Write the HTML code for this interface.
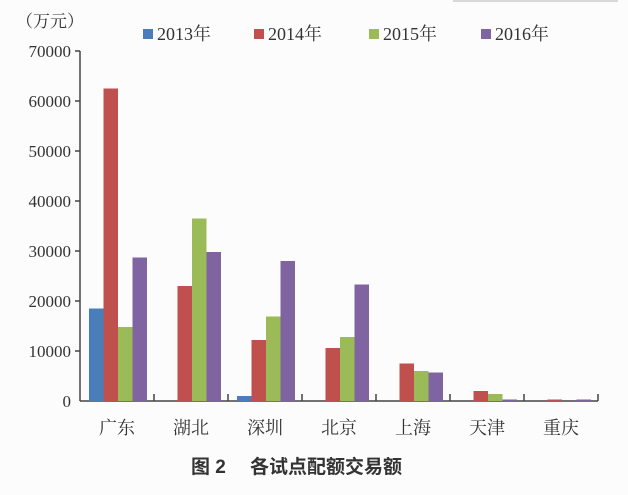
<!DOCTYPE html>
<html><head><meta charset="utf-8"><style>
body{margin:0;background:#fcfcfc;}
svg{display:block;}
text{font-family:"Liberation Serif","Noto Serif CJK SC",serif;fill:#333;}
</style></head><body>
<svg width="628" height="495" viewBox="0 0 628 495">
<rect width="628" height="495" fill="#fcfcfc"/>
<line x1="453" y1="1" x2="618" y2="1" stroke="#ccc" stroke-width="1.5"/>
<text x="16" y="27" font-size="17">（万元）</text>
<g font-size="18">
<rect x="143" y="29" width="10" height="10" fill="#4a7ebb"/><text x="157" y="40">2013年</text>
<rect x="254" y="29" width="10" height="10" fill="#c0504d"/><text x="268" y="40">2014年</text>
<rect x="369" y="29" width="10" height="10" fill="#9bbb59"/><text x="383" y="40">2015年</text>
<rect x="481" y="29" width="10" height="10" fill="#8064a2"/><text x="495" y="40">2016年</text>
</g>
<g font-size="17" text-anchor="end">
<text x="71" y="57">70000</text><text x="71" y="107">60000</text><text x="71" y="157">50000</text>
<text x="71" y="207">40000</text><text x="71" y="257">30000</text><text x="71" y="307">20000</text>
<text x="71" y="357">10000</text><text x="71" y="407">0</text>
</g>
<g stroke="#444" stroke-width="1.5">
<line x1="80" y1="51" x2="80" y2="401"/>
<line x1="80" y1="401" x2="598" y2="401"/>
<line x1="75" y1="51" x2="80" y2="51"/><line x1="75" y1="101" x2="80" y2="101"/>
<line x1="75" y1="151" x2="80" y2="151"/><line x1="75" y1="201" x2="80" y2="201"/>
<line x1="75" y1="251" x2="80" y2="251"/><line x1="75" y1="301" x2="80" y2="301"/>
<line x1="75" y1="351" x2="80" y2="351"/>
<line x1="154" y1="394" x2="154" y2="401"/><line x1="228" y1="394" x2="228" y2="401"/>
<line x1="302" y1="394" x2="302" y2="401"/><line x1="376" y1="394" x2="376" y2="401"/>
<line x1="450" y1="394" x2="450" y2="401"/><line x1="524" y1="394" x2="524" y2="401"/>
<line x1="598" y1="394" x2="598" y2="401"/>
</g>
<g>
<rect x="89" y="308.5" width="14.5" height="92.5" fill="#4a7ebb"/>
<rect x="103.5" y="88.5" width="14.5" height="312.5" fill="#c0504d"/>
<rect x="118" y="327" width="14.5" height="74" fill="#9bbb59"/>
<rect x="132.5" y="257.5" width="14.5" height="143.5" fill="#8064a2"/>
<rect x="177.5" y="286" width="14.5" height="115" fill="#c0504d"/>
<rect x="192" y="218.5" width="14.5" height="182.5" fill="#9bbb59"/>
<rect x="206.5" y="252" width="14.5" height="149" fill="#8064a2"/>
<rect x="237" y="396" width="14.5" height="5" fill="#4a7ebb"/>
<rect x="251.5" y="340" width="14.5" height="61" fill="#c0504d"/>
<rect x="266" y="316.5" width="14.5" height="84.5" fill="#9bbb59"/>
<rect x="280.5" y="261" width="14.5" height="140" fill="#8064a2"/>
<rect x="325.5" y="348" width="14.5" height="53" fill="#c0504d"/>
<rect x="340" y="337" width="14.5" height="64" fill="#9bbb59"/>
<rect x="354.5" y="284.5" width="14.5" height="116.5" fill="#8064a2"/>
<rect x="399.5" y="363.5" width="14.5" height="37.5" fill="#c0504d"/>
<rect x="414" y="371" width="14.5" height="30" fill="#9bbb59"/>
<rect x="428.5" y="372.5" width="14.5" height="28.5" fill="#8064a2"/>
<rect x="473.5" y="391" width="14.5" height="10" fill="#c0504d"/>
<rect x="488" y="394" width="14.5" height="7" fill="#9bbb59"/>
<rect x="502.5" y="399.5" width="14.5" height="1.5" fill="#8064a2"/>
<rect x="547.5" y="399.5" width="14.5" height="1.5" fill="#c0504d"/>
<rect x="576.5" y="399.5" width="14.5" height="1.5" fill="#8064a2"/>
</g>
<g font-size="18" text-anchor="middle">
<text x="117" y="434">广东</text><text x="191" y="434">湖北</text><text x="265" y="434">深圳</text>
<text x="339" y="434">北京</text><text x="413" y="434">上海</text><text x="487" y="434">天津</text>
<text x="561" y="434">重庆</text>
</g>
<text x="191" y="473" font-size="19" font-weight="bold" style="font-family:'Liberation Sans','Noto Sans CJK SC',sans-serif">图 2</text>
<text x="250" y="473" font-size="19" font-weight="bold" style="font-family:'Liberation Sans','Noto Sans CJK SC',sans-serif">各试点配额交易额</text>
</svg>
</body></html>
